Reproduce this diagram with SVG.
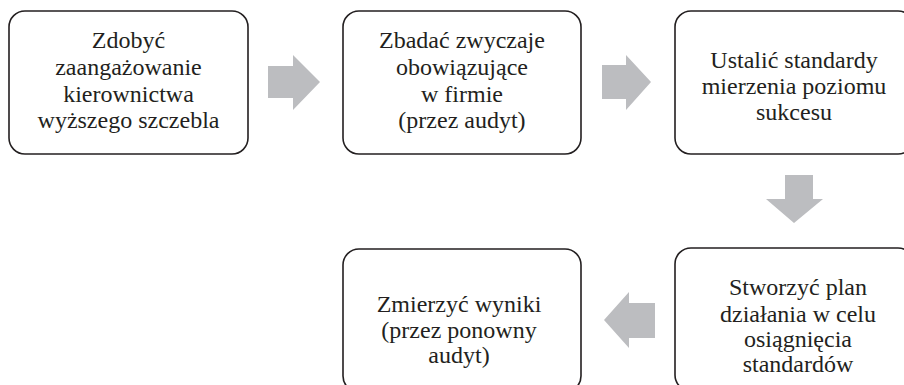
<svg xmlns="http://www.w3.org/2000/svg" width="904" height="385" viewBox="0 0 904 385">
<style>
.box{fill:#fff;stroke:#231f20;stroke-width:1.6}
.arr{fill:#bcbdc0;stroke:none}
.t{font-family:'Liberation Serif','Times New Roman',serif;font-size:24px;fill:#231f20;text-anchor:middle}
</style>
<rect width="904" height="385" fill="#fff"/>
<g id="connectors">
<polygon class="arr" points="268,66 293,66 293,55 320,82 293,110 293,98 268,98"/>
<polygon class="arr" points="602,65 626,65 626,55 651,82 626,110 626,99 602,99"/>
<polygon class="arr" points="785,175 813,175 813,199 823,199 794,223 766,199 785,199"/>
<polygon class="arr" points="655,303 629,303 629,292 604,320 629,348 629,338 655,338"/>
</g>
<g id="n1" class="t">
<rect class="box" x="9" y="11" width="239" height="143" rx="16"/>
<text x="128.5" y="48">Zdobyć</text>
<text x="128.5" y="75">zaangażowanie</text>
<text x="128.5" y="102">kierownictwa</text>
<text x="128.5" y="128">wyższego szczebla</text>
</g>
<g id="n2" class="t">
<rect class="box" x="343" y="11" width="238" height="143" rx="16"/>
<text x="462" y="48">Zbadać zwyczaje</text>
<text x="462" y="75">obowiązujące</text>
<text x="462" y="102">w firmie</text>
<text x="462" y="128">(przez audyt)</text>
</g>
<g id="n3" class="t">
<rect class="box" x="675" y="11" width="239" height="143" rx="16"/>
<text x="794" y="68">Ustalić standardy</text>
<text x="794" y="94">mierzenia poziomu</text>
<text x="794" y="120">sukcesu</text>
</g>
<g id="n4" class="t">
<rect class="box" x="675" y="248" width="239" height="143" rx="16"/>
<text x="798" y="295">Stworzyć plan</text>
<text x="798" y="322">działania w celu</text>
<text x="798" y="347">osiągnięcia</text>
<text x="798" y="372">standardów</text>
</g>
<g id="n5" class="t">
<rect class="box" x="343" y="249" width="238" height="143" rx="16"/>
<text x="459" y="312">Zmierzyć wyniki</text>
<text x="459" y="338">(przez ponowny</text>
<text x="459" y="363">audyt)</text>
</g>
</svg>
